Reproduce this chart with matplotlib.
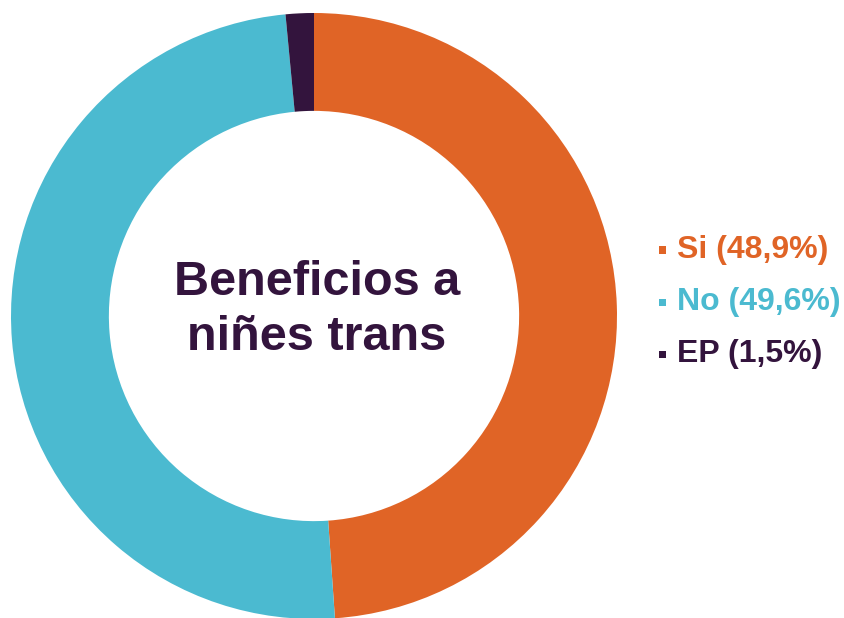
import matplotlib
matplotlib.use("Agg")
import matplotlib.pyplot as plt
from matplotlib.patches import Rectangle

labels = ["Si", "No", "EP"]
values = [48.9, 49.6, 1.5]
value_labels = ["48,9%", "49,6%", "1,5%"]
colors = ["#E06426", "#4BBAD0", "#33143D"]
center_title = "Beneficios a\nniñes trans"

plt.rcParams['font.family'] = ['Liberation Sans', 'DejaVu Sans']

W, H = 844, 618
fig = plt.figure(figsize=(W/100, H/100), dpi=100)
cx, cy, R = 314, 316, 303
ax = fig.add_axes([(cx-R)/W, (H-cy-R)/H, 2*R/W, 2*R/H])
ax.pie(values, colors=colors, startangle=90, counterclock=False, radius=1,
       wedgeprops=dict(width=0.323, linewidth=0))
ax.set_xlim(-1, 1); ax.set_ylim(-1, 1)
ax.set_aspect('equal')
ax.axis('off')

ax.text(0.01, 0.02, center_title, ha='center', va='center', fontsize=35,
        fontweight='bold', color="#33143D", linespacing=1.3)

ys = [250, 302, 354]
for lab, vl, col, y in zip(labels, value_labels, colors, ys):
    fig.add_artist(Rectangle(((659)/W, (H-y-3.5)/H), 7/W, 7/H, transform=fig.transFigure,
                             facecolor=col, edgecolor='none'))
    fig.text(677/W, (H-y)/H, f"{lab} ({vl})", ha='left', va='center', fontsize=23,
             fontweight='bold', color=col)

fig.savefig("out.png", dpi=100)
